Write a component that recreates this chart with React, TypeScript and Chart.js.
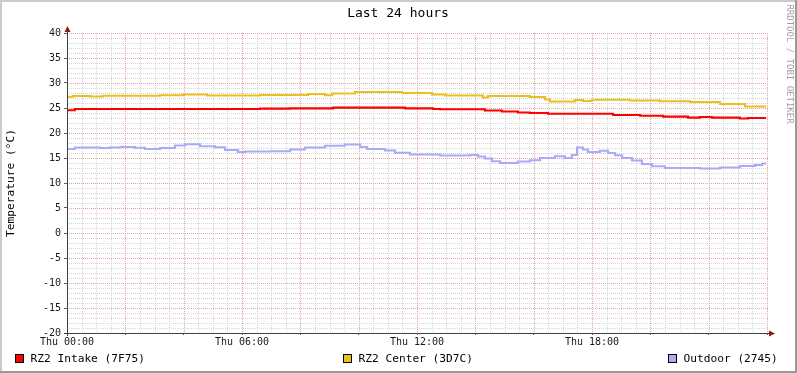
import React, { useEffect, useRef } from 'react';
import { Chart, registerables } from 'chart.js';

Chart.register(...registerables);

const TITLE = 'Last 24 hours';
const Y_TITLE = 'Temperature (°C)';
const WATERMARK = 'RRDTOOL / TOBI OETIKER';

const seriesLabels = ['RZ2 Intake (7F75)', 'RZ2 Center (3D7C)', 'Outdoor (2745)'];
const seriesColors = ['#FF0000', '#E8C020', '#AAAAF8'];

const xMin = 0;
const xMax = 24;
const yMin = -20;
const yMax = 40;
const xTickHours = [0, 6, 12, 18];
const xTickLabels = ['Thu 00:00', 'Thu 06:00', 'Thu 12:00', 'Thu 18:00'];

// Change points (hour of day, value) for each series
const intakeHours = [0, 0.27, 6.62, 7.65, 9.12, 11.59, 12.55, 12.79, 14.33, 14.91, 15.46, 15.87, 16.49, 18.72, 19.65, 20.44, 21.29, 21.70, 22.11, 23.07, 23.35, 23.97];
const intakeValues = [24.55, 24.8, 24.87, 24.93, 25.07, 24.93, 24.8, 24.75, 24.5, 24.3, 24.1, 24.0, 23.85, 23.6, 23.45, 23.27, 23.07, 23.2, 23.07, 22.9, 23.0, 23.0];

const centerHours = [0, 0.21, 0.79, 1.23, 3.19, 3.98, 4.80, 6.62, 8.26, 8.85, 9.09, 9.87, 11.49, 12.51, 12.96, 14.26, 14.43, 15.87, 16.39, 16.56, 17.42, 17.69, 18.00, 19.30, 20.33, 21.36, 22.39, 23.25, 23.97];
const centerValues = [27.25, 27.4, 27.3, 27.45, 27.55, 27.7, 27.5, 27.6, 27.8, 27.55, 27.9, 28.2, 28.0, 27.7, 27.5, 27.1, 27.4, 27.2, 26.7, 26.3, 26.6, 26.4, 26.65, 26.5, 26.35, 26.2, 25.8, 25.3, 25.3];

const outdoorHours = [0, 0.27, 1.13, 1.47, 1.82, 2.33, 2.67, 3.19, 3.70, 4.05, 4.56, 5.07, 5.42, 5.86, 6.10, 6.96, 7.65, 8.16, 8.85, 9.53, 10.05, 10.29, 10.90, 11.25, 11.76, 12.79, 13.82, 14.09, 14.33, 14.57, 14.85, 15.46, 15.87, 16.22, 16.73, 17.07, 17.31, 17.49, 17.69, 17.86, 18.27, 18.55, 18.79, 19.03, 19.37, 19.71, 20.06, 20.50, 21.70, 22.39, 23.07, 23.59, 23.83, 23.97];
const outdoorValues = [16.8, 17.1, 17.0, 17.1, 17.2, 17.05, 16.8, 17.0, 17.5, 17.75, 17.35, 17.15, 16.6, 16.2, 16.3, 16.35, 16.7, 17.1, 17.45, 17.7, 17.2, 16.8, 16.5, 16.05, 15.7, 15.5, 15.6, 15.3, 14.9, 14.35, 14.0, 14.3, 14.55, 15.0, 15.35, 15.0, 15.6, 17.1, 16.7, 16.2, 16.45, 16.0, 15.55, 15.0, 14.5, 13.8, 13.35, 13.0, 12.9, 13.1, 13.4, 13.6, 13.9, 13.9];

const MONO = '"DejaVu Sans Mono", monospace';
const MAJOR_GRID = '#E8A0A0';
const MINOR_GRID = '#D6D6D6';

function toPoints(hours: number[], values: number[]) {
  return hours.map((h, i) => ({ x: h, y: values[i] }));
}

const gridPlugin = {
  id: 'rrdGrid',
  beforeDatasetsDraw(chart: any) {
    const ctx = chart.ctx as CanvasRenderingContext2D;
    const xs = chart.scales.x;
    const ys = chart.scales.y;
    const left = Math.round(xs.getPixelForValue(xMin));
    const right = Math.round(xs.getPixelForValue(xMax));
    const top = Math.round(ys.getPixelForValue(yMax));
    const bottom = Math.round(ys.getPixelForValue(yMin));
    const passes: [boolean, string][] = [[false, MINOR_GRID], [true, MAJOR_GRID]];
    ctx.save();
    passes.forEach(([major, color]) => {
      ctx.beginPath();
      xs.ticks.forEach((t: any) => {
        const isMajor = Math.abs(t.value % 2) < 1e-6;
        if (isMajor !== major) return;
        const px = Math.round(xs.getPixelForValue(t.value));
        for (let py = top; py <= bottom; py += 2) ctx.rect(px, py, 1, 1);
      });
      ys.ticks.forEach((t: any) => {
        const isMajor = Math.abs(t.value % 5) < 1e-6;
        if (isMajor !== major) return;
        const py = Math.round(ys.getPixelForValue(t.value));
        for (let px = left; px <= right; px += 2) ctx.rect(px, py, 1, 1);
      });
      ctx.fillStyle = color;
      ctx.fill();
    });
    ctx.restore();
  },
};

const decorPlugin = {
  id: 'rrdDecor',
  beforeDraw(chart: any) {
    const ctx = chart.ctx;
    ctx.save();
    ctx.fillStyle = '#FFFFFF';
    ctx.fillRect(0, 0, chart.width, chart.height);
    ctx.restore();
  },
  afterDraw(chart: any) {
    const ctx = chart.ctx as CanvasRenderingContext2D;
    const W = chart.width;
    const H = chart.height;
    const xs = chart.scales.x;
    const ys = chart.scales.y;
    const left = xs.getPixelForValue(xMin);
    const right = xs.getPixelForValue(xMax);
    const top = ys.getPixelForValue(yMax);
    const bottom = ys.getPixelForValue(yMin);
    ctx.save();

    // axes
    ctx.strokeStyle = '#404040';
    ctx.lineWidth = 1;
    ctx.beginPath();
    ctx.moveTo(left - 3, Math.round(bottom) + 0.5);
    ctx.lineTo(right + 4, Math.round(bottom) + 0.5);
    ctx.moveTo(Math.round(left) + 0.5, bottom + 3);
    ctx.lineTo(Math.round(left) + 0.5, top - 4);
    ctx.stroke();

    // arrows
    ctx.fillStyle = '#8B1A1A';
    const bx = Math.round(bottom) + 0.5;
    ctx.beginPath();
    ctx.moveTo(right + 2, bx - 3);
    ctx.lineTo(right + 8, bx);
    ctx.lineTo(right + 2, bx + 3);
    ctx.closePath();
    ctx.fill();
    const lx = Math.round(left) + 0.5;
    ctx.beginPath();
    ctx.moveTo(lx - 3, top - 1);
    ctx.lineTo(lx, top - 7);
    ctx.lineTo(lx + 3, top - 1);
    ctx.closePath();
    ctx.fill();

    // title
    ctx.fillStyle = '#000000';
    ctx.font = `13px ${MONO}`;
    ctx.textAlign = 'center';
    ctx.textBaseline = 'middle';
    ctx.fillText(TITLE, 398, 13.5);

    // y axis title
    ctx.save();
    ctx.translate(11, 183);
    ctx.rotate(-Math.PI / 2);
    ctx.font = `11.2px ${MONO}`;
    ctx.fillText(Y_TITLE, 0, 0);
    ctx.restore();

    // watermark
    ctx.save();
    ctx.translate(789, 64);
    ctx.rotate(Math.PI / 2);
    ctx.font = `9px ${MONO}`;
    ctx.fillStyle = '#A0A0A0';
    ctx.fillText(WATERMARK, 0, 0);
    ctx.restore();

    // legend
    const boxX = [15, 343, 668];
    ctx.font = `11.2px ${MONO}`;
    ctx.textAlign = 'left';
    ctx.textBaseline = 'middle';
    seriesLabels.forEach((label, i) => {
      ctx.fillStyle = seriesColors[i];
      ctx.fillRect(boxX[i] + 0.5, 354.5, 8, 8);
      ctx.strokeStyle = '#000000';
      ctx.lineWidth = 1;
      ctx.strokeRect(boxX[i] + 0.5, 354.5, 8, 8);
      ctx.fillStyle = '#000000';
      ctx.fillText(label, boxX[i] + 15.5, 359);
    });

    // frame
    ctx.fillStyle = '#CBCBCB';
    ctx.fillRect(0, 0, W, 2);
    ctx.fillRect(0, 0, 2, H);
    ctx.fillStyle = '#999999';
    ctx.fillRect(0, H - 2, W, 2);
    ctx.fillRect(W - 2, 0, 2, H);
    ctx.restore();
  },
};

export default function App() {
  const canvasRef = useRef<HTMLCanvasElement | null>(null);

  useEffect(() => {
    document.body.style.margin = '0';
    const canvas = canvasRef.current;
    if (!canvas) return;
    Chart.defaults.font.family = MONO;

    const datasets = [
      toPoints(intakeHours, intakeValues),
      toPoints(centerHours, centerValues),
      toPoints(outdoorHours, outdoorValues),
    ].map((data, i) => ({
      label: seriesLabels[i],
      data,
      borderColor: seriesColors[i],
      backgroundColor: seriesColors[i],
      borderWidth: 2.2,
      pointRadius: 0,
      stepped: true as const,
      fill: false,
      tension: 0,
    }));

    const chart = new Chart(canvas, {
      type: 'line',
      data: { datasets },
      plugins: [gridPlugin, decorPlugin],
      options: {
        animation: false,
        responsive: false,
        maintainAspectRatio: false,
        devicePixelRatio: 1,
        layout: { padding: { left: 0, top: 33, right: 30, bottom: 20 } },
        plugins: {
          legend: { display: false },
          title: { display: false },
          tooltip: { enabled: false },
        },
        scales: {
          x: {
            type: 'linear',
            min: xMin,
            max: xMax,
            afterFit: (s: any) => {
              s.height = 20;
            },
            ticks: {
              stepSize: 0.5,
              autoSkip: false,
              maxRotation: 0,
              minRotation: 0,
              maxTicksLimit: 200,
              padding: 1,
              color: '#1a1a1a',
              font: { size: 10, family: MONO },
              callback: (v: any) => {
                const idx = xTickHours.indexOf(Number(v));
                return idx >= 0 ? xTickLabels[idx] : '';
              },
            },
            grid: {
              drawOnChartArea: false,
              drawTicks: true,
              tickLength: 2,
              tickColor: (c: any) => {
                const v = c.tick ? c.tick.value : 0;
                return Math.abs(v % 2) < 1e-6 ? '#606060' : 'rgba(0,0,0,0)';
              },
              lineWidth: 1,
            },
            border: { display: false },
          },
          y: {
            type: 'linear',
            min: yMin,
            max: yMax,
            afterFit: (s: any) => {
              s.width = 67;
            },
            ticks: {
              stepSize: 1,
              autoSkip: false,
              maxTicksLimit: 200,
              padding: 3,
              color: '#1a1a1a',
              font: { size: 10, family: MONO },
              callback: (v: any) => (Number(v) % 5 === 0 ? String(v) : ''),
            },
            grid: {
              drawOnChartArea: false,
              drawTicks: true,
              tickLength: 3,
              tickColor: (c: any) => {
                const v = c.tick ? c.tick.value : 0;
                return Math.abs(v % 5) < 1e-6 ? '#606060' : 'rgba(0,0,0,0)';
              },
              lineWidth: 1,
            },
            border: { display: false },
          },
        },
      },
    });
    return () => {
      chart.destroy();
    };
  }, []);

  return (
    <div style={{ width: 797, height: 373 }}>
      <canvas ref={canvasRef} width={797} height={373} style={{ display: 'block', width: 797, height: 373 }} />
    </div>
  );
}
